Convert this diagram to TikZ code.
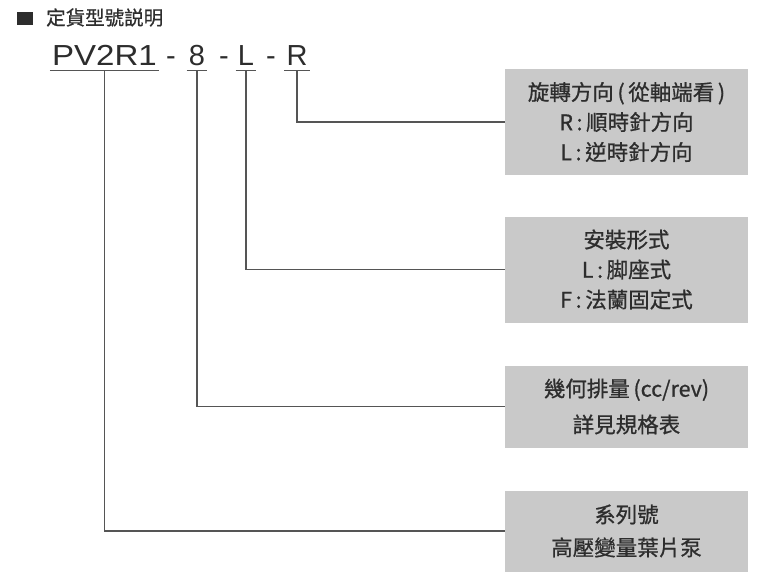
\documentclass[tikz,border=0pt]{standalone}
\usepackage{fontspec}
\setmainfont{Liberation Sans}
\newfontfamily\cjk[FakeBold=0.8]{Noto Sans CJK TC}
\usepackage{xcolor}
\usetikzlibrary{positioning}
\definecolor{boxgray}{RGB}{201,201,201}
\definecolor{inkgray}{RGB}{45,45,45}
\definecolor{linegray}{RGB}{85,85,85}

\begin{document}
\begin{tikzpicture}[x=1pt,y=-1pt,
  b/.style={fill=boxgray,minimum width=243pt,align=center,inner sep=0pt,
            text=inkgray,font=\cjk\fontsize{21.5}{30}\selectfont},
  c/.style={inner xsep=2pt,inner ysep=0pt,text depth=5pt,anchor=base,
            text=inkgray,font=\fontsize{29}{29}\selectfont},
  u/.style={draw=linegray,line width=1.2pt},
  l/.style={draw=linegray,line width=1.3pt}]
\useasboundingbox (0,0) rectangle (776,576);

% heading
\node[fill=inkgray,minimum width=16pt,minimum height=13pt,inner sep=0pt] (sq) at (25,18.5) {};
\node[anchor=west,inner sep=0pt,text=inkgray,font=\cjk\fontsize{19.5}{19.5}\selectfont] (ttl) at (46,17.5) {定貨型號説明};

% model code
\node[c] (pv) at (104.5,65) {\scalebox{1.14}[1]{PV2R1}};
\node[c] (d1) at (171,65) {-};
\node[c] (n8) at (197,65) {8};
\node[c] (d2) at (224,65) {-};
\node[c] (nL) at (246,65) {L};
\node[c] (d3) at (271,65) {-};
\node[c] (nR) at (297,65) {R};
\foreach \n in {pv,n8,nL,nR} { \draw[u] (\n.south west) -- (\n.south east); }

% explanation boxes
\node[b,minimum height=106pt] (b1) at (626.5,122) {旋轉方向\,(\,從軸端看\,)\\R\,:\,順時針方向\\L\,:\,逆時針方向};
\node[b,minimum height=106pt] (b2) at (626.5,269.5) {安裝形式\\L\,:\,脚座式\\F\,:\,法蘭固定式};
\node[b,minimum height=82pt] (b3) at (626.5,406.5) {幾何排量\,(cc/rev)\\[6pt]詳見規格表};
\node[b,minimum height=81pt] (b4) at (626.5,531) {系列號\\[3pt]高壓變量葉片泵};

\foreach \n/\m in {pv/b4,n8/b3,nL/b2,nR/b1} { \draw[l] (\n.south) |- (\m.west); }
\end{tikzpicture}
\end{document}
